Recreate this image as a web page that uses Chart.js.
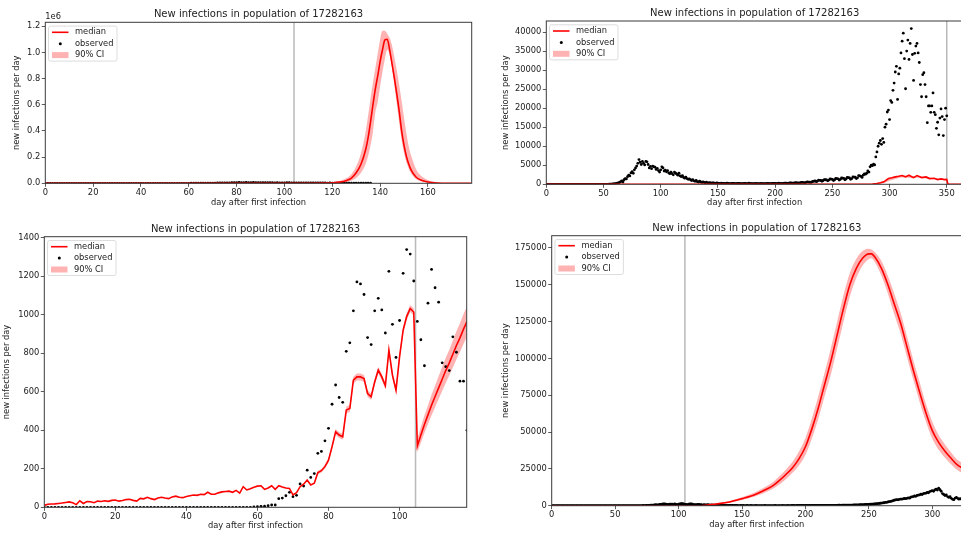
<!DOCTYPE html>
<html>
<head>
<meta charset="utf-8">
<title>New infections</title>
<script src="https://cdn.jsdelivr.net/npm/chart.js@4.4.1/dist/chart.umd.min.js"></script>
<style>
  html, body { margin: 0; padding: 0; background: #fff; width: 961px; height: 534px; overflow: hidden; position: relative; }
  canvas { position: absolute; }
</style>
</head>
<body>
<canvas id="chartTL" width="480" height="215" style="left:0;top:0"></canvas>
<canvas id="chartTR" width="490" height="215" style="left:480px;top:0"></canvas>
<canvas id="chartBL" width="480" height="319" style="left:0;top:215px"></canvas>
<canvas id="chartBR" width="490" height="319" style="left:480px;top:215px"></canvas>
<script>
// Texts
const titleText = "New infections in population of 17282163";
const xLabel = "day after first infection";
const yLabel = "new infections per day";
const legendLabels = ["median", "observed", "90% CI"];

// Tick values per panel
const tlXTicks = [0, 20, 40, 60, 80, 100, 120, 140, 160];
const tlYTicks = [0, 200000, 400000, 600000, 800000, 1000000, 1200000];
const trXTicks = [0, 50, 100, 150, 200, 250, 300, 350];
const trYTicks = [0, 5000, 10000, 15000, 20000, 25000, 30000, 35000, 40000];
const blXTicks = [0, 20, 40, 60, 80, 100];
const blYTicks = [0, 200, 400, 600, 800, 1000, 1200, 1400];
const brXTicks = [0, 50, 100, 150, 200, 250, 300];
const brYTicks = [0, 25000, 50000, 75000, 100000, 125000, 150000, 175000];

// Observed series A (top charts), one value per day from day 0
const obsA = [
  0, 0, 0, 0, 0, 0, 0, 0, 0, 0,
  0, 0, 0, 0, 0, 0, 0, 0, 0, 0,
  0, 0, 0, 0, 0, 0, 0, 0, 0, 0,
  0, 0, 0, 0, 0, 0, 0, 0, 0, 0,
  0, 0, 0, 0, 0, 0, 0, 0, 0, 0,
  0, 0, 0, 0, 0, 20, 30, 50, 80, 100,
  150, 200, 300, 350, 500, 700, 900, 600, 1200, 1500,
  1400, 2000, 2400, 2200, 3000, 3300, 2900, 3800, 4300, 4800,
  5500, 6500, 5800, 5200, 6000, 5500, 5100, 6000, 5900, 5200,
  4300, 4700, 4100, 4800, 4600, 4500, 3900, 4200, 3600, 3200,
  3800, 4600, 4300, 3500, 3700, 3300, 3600, 3000, 2800, 3200,
  2800, 2500, 3200, 2900, 2700, 2400, 2900, 2200, 2000, 2300,
  1800, 1600, 1900, 1500, 1300, 1400, 1200, 1000, 1200, 900,
  800, 1000, 700, 600, 800, 600, 500, 650, 500, 400,
  550, 400, 350, 450, 300, 350, 400, 300, 250, 350,
  300, 250, 200, 300, 250, 220, 180, 250, 300, 250,
  200, 180, 220, 260, 240, 200, 170, 220, 250, 230,
  180, 150, 200, 240, 220, 180, 150, 300, 250, 200,
  170, 150, 200, 220, 200, 170, 140, 180, 220, 200,
  180, 150, 200, 240, 220, 200, 170, 210, 260, 240,
  220, 190, 230, 280, 260, 240, 200, 260, 320, 300,
  280, 230, 300, 370, 350, 320, 280, 350, 430, 400,
  380, 330, 420, 520, 490, 460, 400, 500, 620, 580,
  550, 480, 600, 750, 800, 900, 700, 850, 1100, 1050,
  1000, 800, 1000, 1250, 1200, 1150, 900, 1100, 1400, 1350,
  1300, 1000, 1200, 1550, 1500, 1450, 1100, 1300, 1650, 1600,
  1550, 1200, 1400, 1800, 1750, 1700, 1300, 1500, 1950, 1900,
  1850, 1500, 1700, 2300, 2200, 2100, 1800, 2400, 2700, 2650,
  2900, 3500, 3200, 4600, 5000, 4900, 5300, 5100, 7200, 8500,
  10000, 10800, 11500, 10500, 12000, 11000, 15000, 15800, 19000, 19500,
  17000, 22000, 21500, 24700, 26600, 29500, 31000, 22300, 29000, 30500,
  34500, 37600, 39700, 33000, 25100, 35000, 37900, 32800, 37000, 40900,
  34100, 27300, 34400, 36300, 37000, 34500, 32000, 26200, 23000, 28800,
  29300, 26200, 23000, 16200, 20600, 20600, 18900, 20600, 24000, 18900,
  18300, 14700, 16300, 13000, 17400, 19800, 17800, 12800, 17000, 20000,
  18000,
];
const tlObservedDays = 137;

// Observed series B (bottom charts), one value per day from day 0
const obsB = [
  0, 0, 0, 0, 0, 0, 0, 0, 0, 0,
  0, 0, 0, 0, 0, 0, 0, 0, 0, 0,
  0, 0, 0, 0, 0, 0, 0, 0, 0, 0,
  0, 0, 0, 0, 0, 0, 0, 0, 0, 0,
  0, 0, 0, 0, 0, 0, 0, 0, 0, 0,
  0, 0, 0, 0, 0, 0, 0, 0, 0, 2,
  3, 5, 6, 8, 12, 12, 45, 48, 60, 78,
  55, 62, 121, 110, 193, 155, 175, 280, 290, 345,
  410, 535, 635, 570, 545, 810, 854, 1020, 1170, 1160,
  1105, 881, 845, 1020, 1085, 1025, 905, 1225, 950, 778,
  970, 1215, 1338, 1315, 1175, 965, 870, 735, 1060, 1235,
  1140, 1065, 750, 730, 710, 885, 805, 655, 655, 400,
  700, 620, 560, 640, 500, 430, 470, 380, 330, 400,
  300, 260, 240, 300, 230, 200, 250, 180, 170, 210,
  160, 150, 140, 180, 130, 120, 150, 110, 100, 140,
  110, 120, 90, 110, 130, 100, 80, 120, 110, 90,
  100, 120, 80, 90, 110, 100, 80, 110, 120, 90,
  80, 100, 110, 90, 80, 100, 120, 90, 80, 110,
  100, 90, 120, 110, 90, 100, 130, 110, 100, 120,
  140, 120, 110, 130, 150, 130, 120, 140, 160, 150,
  130, 150, 170, 160, 150, 170, 190, 180, 160, 190,
  210, 200, 180, 210, 230, 220, 200, 230, 250, 240,
  220, 250, 270, 260, 240, 270, 300, 290, 270, 300,
  330, 300, 350, 320, 380, 420, 400, 450, 500, 480,
  550, 600, 580, 650, 700, 680, 750, 820, 800, 900,
  950, 1000, 1050, 1100, 1200, 1250, 1350, 1450, 1500, 1650,
  1800, 1900, 2000, 2200, 2300, 2500, 2700, 2900, 3100, 3400,
  3700, 3900, 4100, 4000, 4300, 4500, 4400, 4700, 4900, 4800,
  5000, 5300, 5100, 5800, 6000, 6200, 6600, 6400, 7000, 7200,
  7300, 7800, 7600, 8200, 8400, 8500, 9000, 8800, 9600, 9900,
  10300, 9800, 10800, 11200, 10600, 11900, 10900, 9800, 8200, 7600,
  6900, 7400, 6200, 5600, 6100, 5000, 4300, 4100, 5200, 5600,
  5000, 4400, 4800, 4300,
];
const blObservedDays = 120;

// Top-left: model median and 90% CI
const tlDays = [0, 110, 116, 120, 123, 126, 128, 130, 132, 134, 135, 136, 137, 138, 139, 140, 141, 142, 143, 144,
  145, 146, 147, 148, 149, 150, 151, 152, 153, 155, 157, 160, 164, 168, 178];
const tlMedian = [0, 0, 1500, 4000, 9000, 22000, 40000, 80000, 145000, 260000, 350000, 470000, 600000, 720000, 820000,
  930000, 1020000, 1095000, 1100000, 1020000, 910000, 800000, 680000, 550000, 400000, 290000, 205000, 145000, 100000,
  48000, 25000, 10000, 2500, 500, 0];
const tlUpper = [0, 500, 3500, 8000, 17000, 40000, 70000, 130000, 230000, 400000, 520000, 650000, 770000, 880000, 990000,
  1100000, 1165000, 1165000, 1140000, 1110000, 1050000, 960000, 860000, 750000, 630000, 500000, 380000, 280000, 210000,
  110000, 60000, 25000, 7000, 1500, 0];
const tlLower = [0, 0, 500, 1500, 4000, 10000, 20000, 40000, 80000, 150000, 210000, 290000, 390000, 540000, 620000,
  740000, 850000, 950000, 1020000, 980000, 880000, 740000, 600000, 460000, 330000, 230000, 160000, 110000, 75000,
  32000, 15000, 5000, 1000, 200, 0];

// Top-right: model median and 90% CI
const trMedDays = [0, 280, 285, 289, 292, 295, 299, 302, 305, 308, 311, 314, 317, 321, 324, 328, 332, 335, 339, 342,
  345, 348, 350, 351, 364];
const trMedian = [0, 0, 80, 200, 400, 650, 1500, 1700, 1950, 2100, 2300, 1950, 2380, 1760, 2290, 1760, 1940, 1500, 1590,
  1230, 1410, 1230, 1300, 0, 0];
const trBandDays = [285, 290, 295, 300, 305, 310, 315, 320, 325, 330, 335, 340, 345, 350];
const trUpper = [100, 330, 750, 1650, 2050, 2350, 2300, 2100, 2200, 2000, 1700, 1600, 1450, 1350];
const trLower = [20, 100, 300, 900, 1400, 1800, 1800, 1600, 1700, 1600, 1300, 1300, 1100, 1100];

// Bottom-left: model median per day from day 0, 90% CI per day from blBandStart
const blMedian = [
  10, 16, 17, 18, 20, 22, 25, 28, 24, 14,
  34, 20, 30, 29, 24, 32, 30, 34, 31, 36,
  38, 32, 35, 40, 42, 36, 32, 46, 44, 52,
  45, 40, 48, 52, 48, 45, 54, 58, 52, 50,
  56, 60, 64, 62, 68, 66, 78, 68, 68, 75,
  80, 82, 84, 78, 88, 74, 107, 90, 96, 104,
  110, 112, 93, 100, 112, 93, 112, 105, 100, 98,
  64, 76, 107, 120, 142, 116, 125, 180, 190, 211,
  245, 315, 392, 375, 366, 505, 513, 660, 677, 677,
  669, 591, 574, 651, 712, 677, 631, 816, 686, 608,
  781, 919, 990, 1032, 1014, 318, 375, 430, 480, 530,
  575, 620, 665, 710, 750, 795, 840, 880, 925, 965,
];
const blBandStart = 76;
const blUpper = [
  132, 188, 199, 221,
  256, 328, 407, 390, 381, 522, 531, 678, 695, 695,
  687, 608, 591, 668, 729, 694, 648, 833, 703, 625,
  798, 937, 1008, 1050, 1032, 355, 418, 476, 530, 585,
  632, 680, 728, 776, 818, 866, 914, 956, 1003, 1045,
];
const blLower = [
  118, 172, 181, 201,
  234, 302, 377, 360, 351, 488, 495, 642, 659, 659,
  651, 574, 557, 634, 695, 660, 614, 799, 669, 591,
  764, 901, 972, 1014, 996, 285, 335, 386, 432, 477,
  520, 562, 604, 646, 684, 726, 768, 806, 848, 888,
];

// Bottom-right: model median and 90% CI
const brDays = [0, 118, 123, 130, 140, 150, 160, 170, 175, 180, 185, 190, 195, 200, 205, 210, 215, 220, 225, 230,
  235, 240, 245, 250, 252, 255, 260, 265, 270, 275, 280, 285, 290, 295, 300, 305, 310, 315, 320, 324];
const brMedian = [0, 0, 500, 1200, 2500, 4800, 7500, 11500, 14000, 17500, 21500, 26000, 32000, 40000, 52000, 66000,
  82000, 98000, 116000, 134000, 150000, 161000, 168000, 171000, 171000, 168500, 161000, 150000, 137000, 124000,
  108000, 92000, 77000, 63000, 51000, 43000, 37000, 32000, 27500, 25500];
const brUpper = [0, 100, 700, 1600, 3200, 5800, 9000, 13500, 16500, 20500, 25000, 30000, 37000, 46000, 59000, 74000,
  90000, 107000, 125000, 143000, 158000, 167500, 173000, 174500, 174000, 172000, 166000, 156000, 144000, 131000,
  115000, 99000, 84000, 69000, 57000, 48000, 41500, 36000, 31000, 29000];
const brLower = [0, 0, 300, 900, 1900, 3900, 6200, 9600, 11800, 14800, 18300, 22500, 27500, 34500, 45500, 58500,
  74000, 89000, 107000, 125000, 142000, 154500, 163000, 167500, 168000, 165000, 156000, 144000, 130000, 117000,
  101000, 85500, 70500, 57000, 45500, 38000, 32500, 28000, 24000, 22000];

// Day of the vertical grey line in each panel: TL, TR, BL, BR
const cutDays = [104, 350, 104.5, 105];

Chart.defaults.font.family = "'DejaVu Sans', sans-serif";
Chart.defaults.font.size = 8.3;
Chart.defaults.color = "#222";

const pts = (xs, ys) => ys.map((y, i) => ({ x: xs[i], y }));
const daily = (ys, start = 0) => ys.map((y, i) => ({ x: start + i, y }));

// matplotlib-like frame, cut line, legend and offset text
const mplDecor = {
  id: "mplDecor",
  beforeDatasetsDraw(chart, args, opts) {
    const { ctx, chartArea: a, scales } = chart;
    const px = scales.x.getPixelForValue(opts.cut);
    ctx.save();
    ctx.strokeStyle = "rgba(128,128,128,0.55)";
    ctx.lineWidth = 1.5;
    ctx.beginPath();
    ctx.moveTo(px, a.top);
    ctx.lineTo(px, a.bottom);
    ctx.stroke();
    ctx.restore();
  },
  afterDatasetsDraw(chart, args, opts) {
    const { ctx, chartArea: a } = chart;
    ctx.save();
    ctx.strokeStyle = "#3a3a3a";
    ctx.lineWidth = 1;
    ctx.strokeRect(a.left, a.top, a.right - a.left, a.bottom - a.top);

    ctx.font = "8.3px 'DejaVu Sans'";
    ctx.fillStyle = "#222";
    if (opts.offsetText) {
      ctx.textBaseline = "alphabetic";
      ctx.textAlign = "left";
      ctx.fillText(opts.offsetText, a.left, a.top - 3.5);
    }

    // legend box in the upper left corner
    const x0 = a.left + 3.2, y0 = a.top + 3.8;
    ctx.fillStyle = "rgba(255,255,255,0.8)";
    ctx.strokeStyle = "#d4d4d4";
    ctx.lineWidth = 0.8;
    ctx.beginPath();
    ctx.roundRect(x0, y0, 68.5, 35, 2);
    ctx.fill();
    ctx.stroke();
    ctx.textBaseline = "middle";
    chart.data.datasets.filter((d) => d.legendKind).forEach((d, i) => {
      const cy = y0 + 6.2 + i * 11.4;
      if (d.legendKind === "line") {
        ctx.strokeStyle = d.borderColor;
        ctx.lineWidth = 1.6;
        ctx.beginPath();
        ctx.moveTo(x0 + 3.5, cy);
        ctx.lineTo(x0 + 20, cy);
        ctx.stroke();
      } else if (d.legendKind === "dot") {
        ctx.fillStyle = "#000";
        ctx.beginPath();
        ctx.arc(x0 + 11.8, cy, 1.5, 0, Math.PI * 2);
        ctx.fill();
      } else {
        ctx.fillStyle = d.backgroundColor;
        ctx.fillRect(x0 + 3.5, cy - 3, 16.5, 6);
      }
      ctx.fillStyle = "#222";
      ctx.fillText(d.label, x0 + 26.5, cy);
    });
    ctx.restore();
  },
};

function buildChart(id, p) {
  const interp = p.smooth ? "monotone" : "default";
  return new Chart(document.getElementById(id), {
    type: "line",
    data: {
      datasets: [
        {
          label: legendLabels[0], legendKind: "line", data: p.median,
          borderColor: "#ff0000", borderWidth: 1.6, pointRadius: 0,
          tension: 0, cubicInterpolationMode: interp, fill: false,
        },
        {
          label: legendLabels[1], legendKind: "dot", data: p.observed, showLine: false,
          pointRadius: 1.4, pointBackgroundColor: "#000", pointBorderWidth: 0, pointHoverRadius: 0,
        },
        {
          label: legendLabels[2], legendKind: "patch", data: p.upper,
          borderWidth: 0, borderColor: "rgba(0,0,0,0)", pointRadius: 0, tension: 0,
          cubicInterpolationMode: interp, fill: "+1", backgroundColor: "rgba(255,0,0,0.3)",
        },
        {
          label: "", data: p.lower, borderWidth: 0, borderColor: "rgba(0,0,0,0)", pointRadius: 0,
          tension: 0, cubicInterpolationMode: interp, fill: false,
        },
      ],
    },
    options: {
      responsive: false,
      animation: false,
      events: [],
      layout: { padding: { left: 0, top: 0, bottom: 0, right: p.padRight } },
      plugins: {
        legend: { display: false },
        tooltip: { enabled: false },
        title: {
          display: true, text: titleText, fullSize: false, color: "#222",
          font: { size: 10, weight: "normal" },
          padding: { top: p.titleTop, bottom: p.titleBottom },
        },
        mplDecor: { cut: p.cut, offsetText: p.offsetText },
      },
      scales: {
        x: {
          type: "linear", min: 0, max: p.xMax,
          afterBuildTicks: (s) => { s.ticks = p.xTicks.map((value) => ({ value })); },
          afterFit: (s) => { s.height = p.xHeight; },
          border: { display: false },
          grid: { drawOnChartArea: false, tickLength: 3.5, color: "#333", tickColor: "#333", lineWidth: 0.8 },
          ticks: { maxRotation: 0, autoSkip: false, padding: 1, callback: (v) => String(v) },
          title: { display: true, text: xLabel, padding: { top: 0, bottom: p.xTitlePad } },
        },
        y: {
          type: "linear", min: 0, max: p.yMax,
          afterBuildTicks: (s) => { s.ticks = p.yTicks.map((value) => ({ value })); },
          afterFit: (s) => { s.width = p.yWidth; },
          border: { display: false },
          grid: { drawOnChartArea: false, tickLength: 3.5, color: "#333", tickColor: "#333", lineWidth: 0.8 },
          ticks: { autoSkip: false, padding: 1.5, callback: p.yFormat || ((v) => String(v)) },
          title: { display: true, text: yLabel, padding: { top: p.yTitlePad, bottom: 0 } },
        },
      },
    },
    plugins: [mplDecor],
  });
}

buildChart("chartTL", {
  median: pts(tlDays, tlMedian), observed: daily(obsA.slice(0, tlObservedDays)),
  upper: pts(tlDays, tlUpper), lower: pts(tlDays, tlLower), smooth: true,
  xMax: 178.3, yMax: 1230000, xTicks: tlXTicks, yTicks: tlYTicks,
  yFormat: (v) => (v / 1e6).toFixed(1), offsetText: "1e6", cut: cutDays[0],
  yWidth: 45.3, xHeight: 31.7, padRight: 8.3, titleTop: 8, titleBottom: 2.3, yTitlePad: 11.7, xTitlePad: 7.3,
});

buildChart("chartTR", {
  median: pts(trMedDays, trMedian), observed: daily(obsA),
  upper: pts(trBandDays, trUpper), lower: pts(trBandDays, trLower), smooth: false,
  xMax: 364.2, yMax: 42900, xTicks: trXTicks, yTicks: trYTicks, cut: cutDays[1],
  yWidth: 66.3, xHeight: 30.7, padRight: 7, titleTop: 7.3, titleBottom: 1.7, yTitlePad: 21, xTitlePad: 6.7,
});

buildChart("chartBL", {
  median: daily(blMedian), observed: daily(obsB.slice(0, blObservedDays)),
  upper: daily(blUpper, blBandStart), lower: daily(blLower, blBandStart), smooth: false,
  xMax: 118.9, yMax: 1405, xTicks: blXTicks, yTicks: blYTicks, cut: cutDays[2],
  yWidth: 44.3, xHeight: 26.7, padRight: 13.3, titleTop: 8.3, titleBottom: 1.4, yTitlePad: 2.3, xTitlePad: 3,
});

buildChart("chartBR", {
  median: pts(brDays, brMedian), observed: daily(obsB),
  upper: pts(brDays, brUpper), lower: pts(brDays, brLower), smooth: true,
  xMax: 323.4, yMax: 183350, xTicks: brXTicks, yTicks: brYTicks, cut: cutDays[3],
  yWidth: 71.7, xHeight: 28.3, padRight: 8, titleTop: 7.3, titleBottom: 1.4, yTitlePad: 20.7, xTitlePad: 4,
});
</script>
</body>
</html>
